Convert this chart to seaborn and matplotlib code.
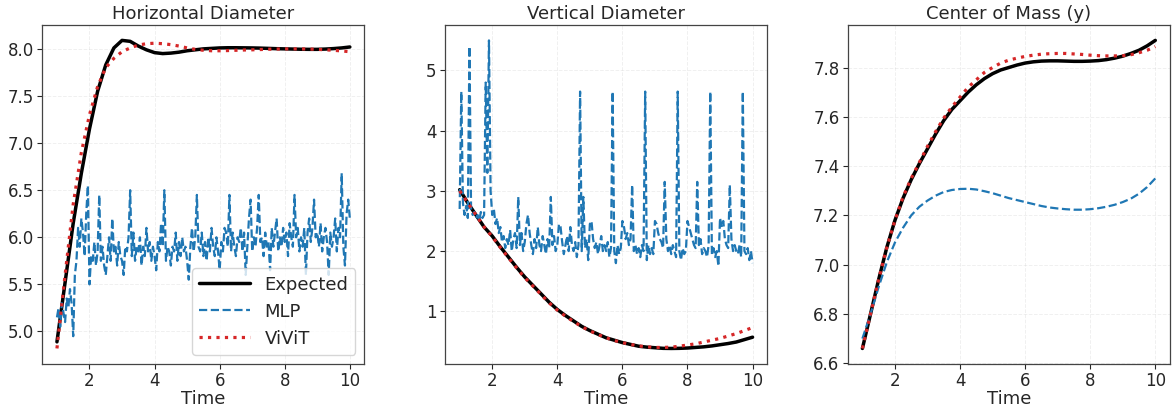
import seaborn as sns
import matplotlib.pyplot as plt
import numpy as np
import pandas as pd

# time grids: smooth curves every 0.25, noisy MLP traces every 0.05
t_smooth = np.linspace(1, 10, 37)
t_noisy = np.linspace(1, 10, 181)

# Horizontal Diameter
hd_expected = [4.89, 5.52, 6.15, 6.68, 7.15, 7.55, 7.83, 8.01, 8.09, 8.08, 8.03, 7.99,
               7.96, 7.95, 7.955, 7.965, 7.98, 7.99, 8.0, 8.005, 8.01, 8.012, 8.012, 8.011,
               8.01, 8.008, 8.005, 8.002, 8.0, 7.998, 7.996, 7.995, 7.995, 7.998, 8.003, 8.01, 8.02]
hd_vivit = [4.82, 5.6, 6.35, 6.9, 7.3, 7.6, 7.8, 7.9, 7.97, 8.01, 8.04, 8.055,
            8.06, 8.055, 8.045, 8.03, 8.01, 7.995, 7.985, 7.98, 7.98, 7.982, 7.985, 7.988,
            7.99, 7.993, 7.996, 7.998, 8.0, 8.0, 8.0, 7.998, 7.995, 7.99, 7.985, 7.978, 7.97]
hd_mlp = [5.15, 5.25, 5.05, 5.3, 5.2, 5.1, 5.35, 5.25, 5.45, 5.3,
          4.95, 5.6, 5.75, 6.1, 5.9, 6.2, 6.05, 5.8, 6.25, 6.55,
          5.5, 5.8, 5.75, 5.95, 5.7, 5.85, 6.45, 5.75, 5.9, 5.7,
          5.6, 5.8, 6.0, 5.75, 6.2, 5.85, 5.9, 5.7, 5.95, 5.8,
          5.75, 5.6, 5.9, 5.85, 6.0, 6.5, 5.8, 6.05, 5.75, 5.9,
          5.85, 6.0, 5.7, 5.9, 5.8, 6.1, 5.85, 5.95, 5.75, 5.9,
          5.8, 5.65, 5.95, 5.85, 6.15, 5.9, 6.5, 5.75, 5.9, 5.85,
          5.7, 5.9, 5.85, 6.05, 5.75, 5.95, 5.8, 6.0, 5.85, 5.9,
          5.75, 5.55, 5.9, 6.1, 5.85, 6.0, 6.45, 5.9, 5.85, 6.05,
          5.8, 5.95, 5.75, 6.0, 5.85, 6.1, 5.9, 5.8, 6.0, 5.85,
          5.65, 5.95, 5.85, 6.1, 6.05, 5.9, 6.45, 5.85, 6.05, 5.9,
          5.8, 6.0, 5.95, 6.1, 5.85, 6.05, 5.6, 5.9, 6.2, 6.4,
          5.85, 6.0, 5.9, 6.1, 6.45, 5.95, 6.0, 5.8, 6.05, 5.9,
          5.95, 5.65, 6.1, 5.9, 6.05, 6.2, 5.85, 6.0, 5.9, 6.1,
          5.95, 6.05, 5.8, 6.15, 6.0, 5.9, 6.45, 6.0, 6.1, 5.85,
          6.0, 5.9, 6.1, 5.6, 6.05, 6.2, 5.95, 6.1, 6.4, 6.0,
          6.05, 5.9, 6.15, 5.85, 6.0, 6.1, 5.95, 5.6, 6.05, 5.9,
          6.0, 6.2, 5.85, 6.1, 6.0, 6.68, 5.9, 5.7, 6.25, 6.4,
          6.2]

# Vertical Diameter
vd_expected = [3.02, 2.8, 2.6, 2.4, 2.25, 2.07, 1.9, 1.73, 1.57, 1.43, 1.29, 1.15,
               1.03, 0.93, 0.84, 0.75, 0.68, 0.62, 0.56, 0.52, 0.48, 0.45, 0.42, 0.405,
               0.395, 0.385, 0.383, 0.385, 0.39, 0.40, 0.41, 0.425, 0.445, 0.465, 0.49, 0.53, 0.57]
vd_vivit = [3.0, 2.8, 2.6, 2.4, 2.24, 2.06, 1.89, 1.72, 1.56, 1.42, 1.28, 1.14,
            1.02, 0.92, 0.83, 0.745, 0.675, 0.615, 0.56, 0.515, 0.48, 0.45, 0.425, 0.41,
            0.40, 0.40, 0.405, 0.42, 0.44, 0.46, 0.49, 0.52, 0.55, 0.59, 0.63, 0.68, 0.73]
vd_mlp = [2.7, 4.65, 2.8, 2.6, 2.75, 2.55, 5.4, 2.7, 2.6, 2.65,
          2.55, 2.6, 2.5, 2.65, 2.55, 2.6, 4.8, 3.3, 5.5, 3.0,
          2.6, 2.7, 2.45, 2.55, 2.3, 2.4, 2.15, 2.25, 2.05, 2.2,
          2.1, 2.35, 2.0, 2.2, 2.3, 2.05, 2.9, 2.1, 2.3, 2.0,
          2.15, 2.45, 2.6, 2.3, 2.1, 1.95, 2.2, 2.05, 2.4, 2.1,
          2.0, 2.25, 2.1, 1.95, 2.2, 2.05, 2.9, 2.1, 2.25, 2.0,
          2.1, 2.45, 2.4, 2.15, 1.95, 2.1, 2.25, 2.0, 2.4, 2.1,
          2.0, 2.15, 1.9, 2.1, 4.65, 2.0, 2.9, 2.05, 2.2, 1.85,
          2.45, 2.5, 2.2, 2.05, 2.15, 1.95, 2.1, 2.25, 2.0, 2.1,
          2.0, 2.15, 1.9, 2.05, 4.65, 2.0, 1.8, 2.1, 1.95, 2.05,
          2.5, 2.4, 2.2, 2.3, 2.1, 2.2, 3.1, 2.0, 2.1, 1.95,
          2.05, 1.9, 2.1, 2.0, 4.65, 1.85, 2.1, 1.95, 2.05, 1.95,
          2.5, 2.45, 2.3, 2.2, 2.15, 2.05, 3.15, 2.2, 2.0, 2.1,
          1.95, 2.1, 2.0, 1.9, 4.65, 2.0, 1.85, 2.05, 1.95, 2.0,
          2.5, 2.4, 2.3, 2.2, 2.1, 2.05, 3.15, 2.1, 2.2, 1.95,
          2.05, 2.0, 1.9, 2.1, 4.65, 1.95, 2.05, 1.9, 2.0, 1.75,
          2.55, 2.4, 2.5, 2.2, 2.1, 2.05, 3.1, 2.2, 2.0, 2.1,
          2.0, 1.95, 2.1, 1.9, 4.65, 2.0, 1.95, 2.05, 1.85, 2.0,
          1.8]

# Center of Mass (y)
cm_expected = [6.66, 6.80, 6.94, 7.07, 7.18, 7.27, 7.345, 7.41, 7.47, 7.53, 7.585, 7.63,
               7.665, 7.70, 7.73, 7.755, 7.775, 7.79, 7.80, 7.81, 7.818, 7.823, 7.826, 7.827,
               7.827, 7.826, 7.825, 7.825, 7.826, 7.828, 7.832, 7.838, 7.846, 7.857, 7.87, 7.888, 7.91]
cm_vivit = [6.66, 6.80, 6.94, 7.07, 7.18, 7.275, 7.35, 7.415, 7.48, 7.54, 7.595, 7.64,
            7.68, 7.72, 7.75, 7.78, 7.80, 7.818, 7.83, 7.838, 7.845, 7.85, 7.854, 7.856,
            7.857, 7.857, 7.855, 7.853, 7.85, 7.848, 7.847, 7.847, 7.848, 7.852, 7.86, 7.87, 7.885]
cm_mlp = [6.70, 6.80, 6.91, 7.01, 7.09, 7.15, 7.20, 7.235, 7.26, 7.28, 7.295, 7.303,
          7.307, 7.308, 7.305, 7.298, 7.29, 7.28, 7.27, 7.262, 7.254, 7.246, 7.238, 7.232,
          7.228, 7.225, 7.223, 7.223, 7.225, 7.229, 7.235, 7.243, 7.254, 7.268, 7.288, 7.315, 7.35]

panels = [
    ('Horizontal Diameter', hd_expected, hd_mlp, hd_vivit,
     [5.0, 5.5, 6.0, 6.5, 7.0, 7.5, 8.0], ['5.0', '5.5', '6.0', '6.5', '7.0', '7.5', '8.0']),
    ('Vertical Diameter', vd_expected, vd_mlp, vd_vivit,
     [1, 2, 3, 4, 5], ['1', '2', '3', '4', '5']),
    ('Center of Mass (y)', cm_expected, cm_mlp, cm_vivit,
     [6.6, 6.8, 7.0, 7.2, 7.4, 7.6, 7.8], ['6.6', '6.8', '7.0', '7.2', '7.4', '7.6', '7.8']),
]

sns.set_theme(style="ticks")
plt.rcParams['font.family'] = ['DejaVu Sans']

fig, axes = plt.subplots(1, 3, figsize=(11.75, 4.07), dpi=100)
fig.subplots_adjust(left=0.036, right=0.9957, top=0.9386, bottom=0.106, wspace=0.25)

for i, (title, expected, mlp, vivit, yticks, ylabels) in enumerate(panels):
    ax = axes[i]
    smooth = pd.DataFrame({'Time': t_smooth, 'Expected': expected, 'ViViT': vivit})
    t_mlp = t_noisy if len(mlp) == len(t_noisy) else t_smooth
    mlp_df = pd.DataFrame({'Time': t_mlp, 'MLP': mlp})

    sns.lineplot(data=smooth, x='Time', y='Expected', ax=ax, color='black', linewidth=2.5,
                 label='Expected')
    sns.lineplot(data=mlp_df, x='Time', y='MLP', ax=ax, color='#1f77b4', linewidth=1.6,
                 linestyle='--', label='MLP')
    sns.lineplot(data=smooth, x='Time', y='ViViT', ax=ax, color='#d62728', linewidth=2.3,
                 linestyle=':', label='ViViT')

    ax.set_title(title, fontsize=13, pad=4)
    ax.set_xlabel('Time', fontsize=13, labelpad=0)
    ax.set_ylabel('')
    ax.set_xticks([2, 4, 6, 8, 10])
    ax.set_yticks(yticks)
    ax.set_yticklabels(ylabels)
    ax.tick_params(axis='both', labelsize=12, length=3.5, width=0.8, pad=2.5)
    ax.grid(True, linestyle='--', linewidth=0.7, alpha=0.3)
    for s in ax.spines.values():
        s.set_color('#444444')
        s.set_linewidth(0.9)

    if i == 0:
        ax.legend(loc='lower right', fontsize=13, handlelength=2.8)
    else:
        ax.get_legend().remove()

plt.savefig('out.png', dpi=100)
